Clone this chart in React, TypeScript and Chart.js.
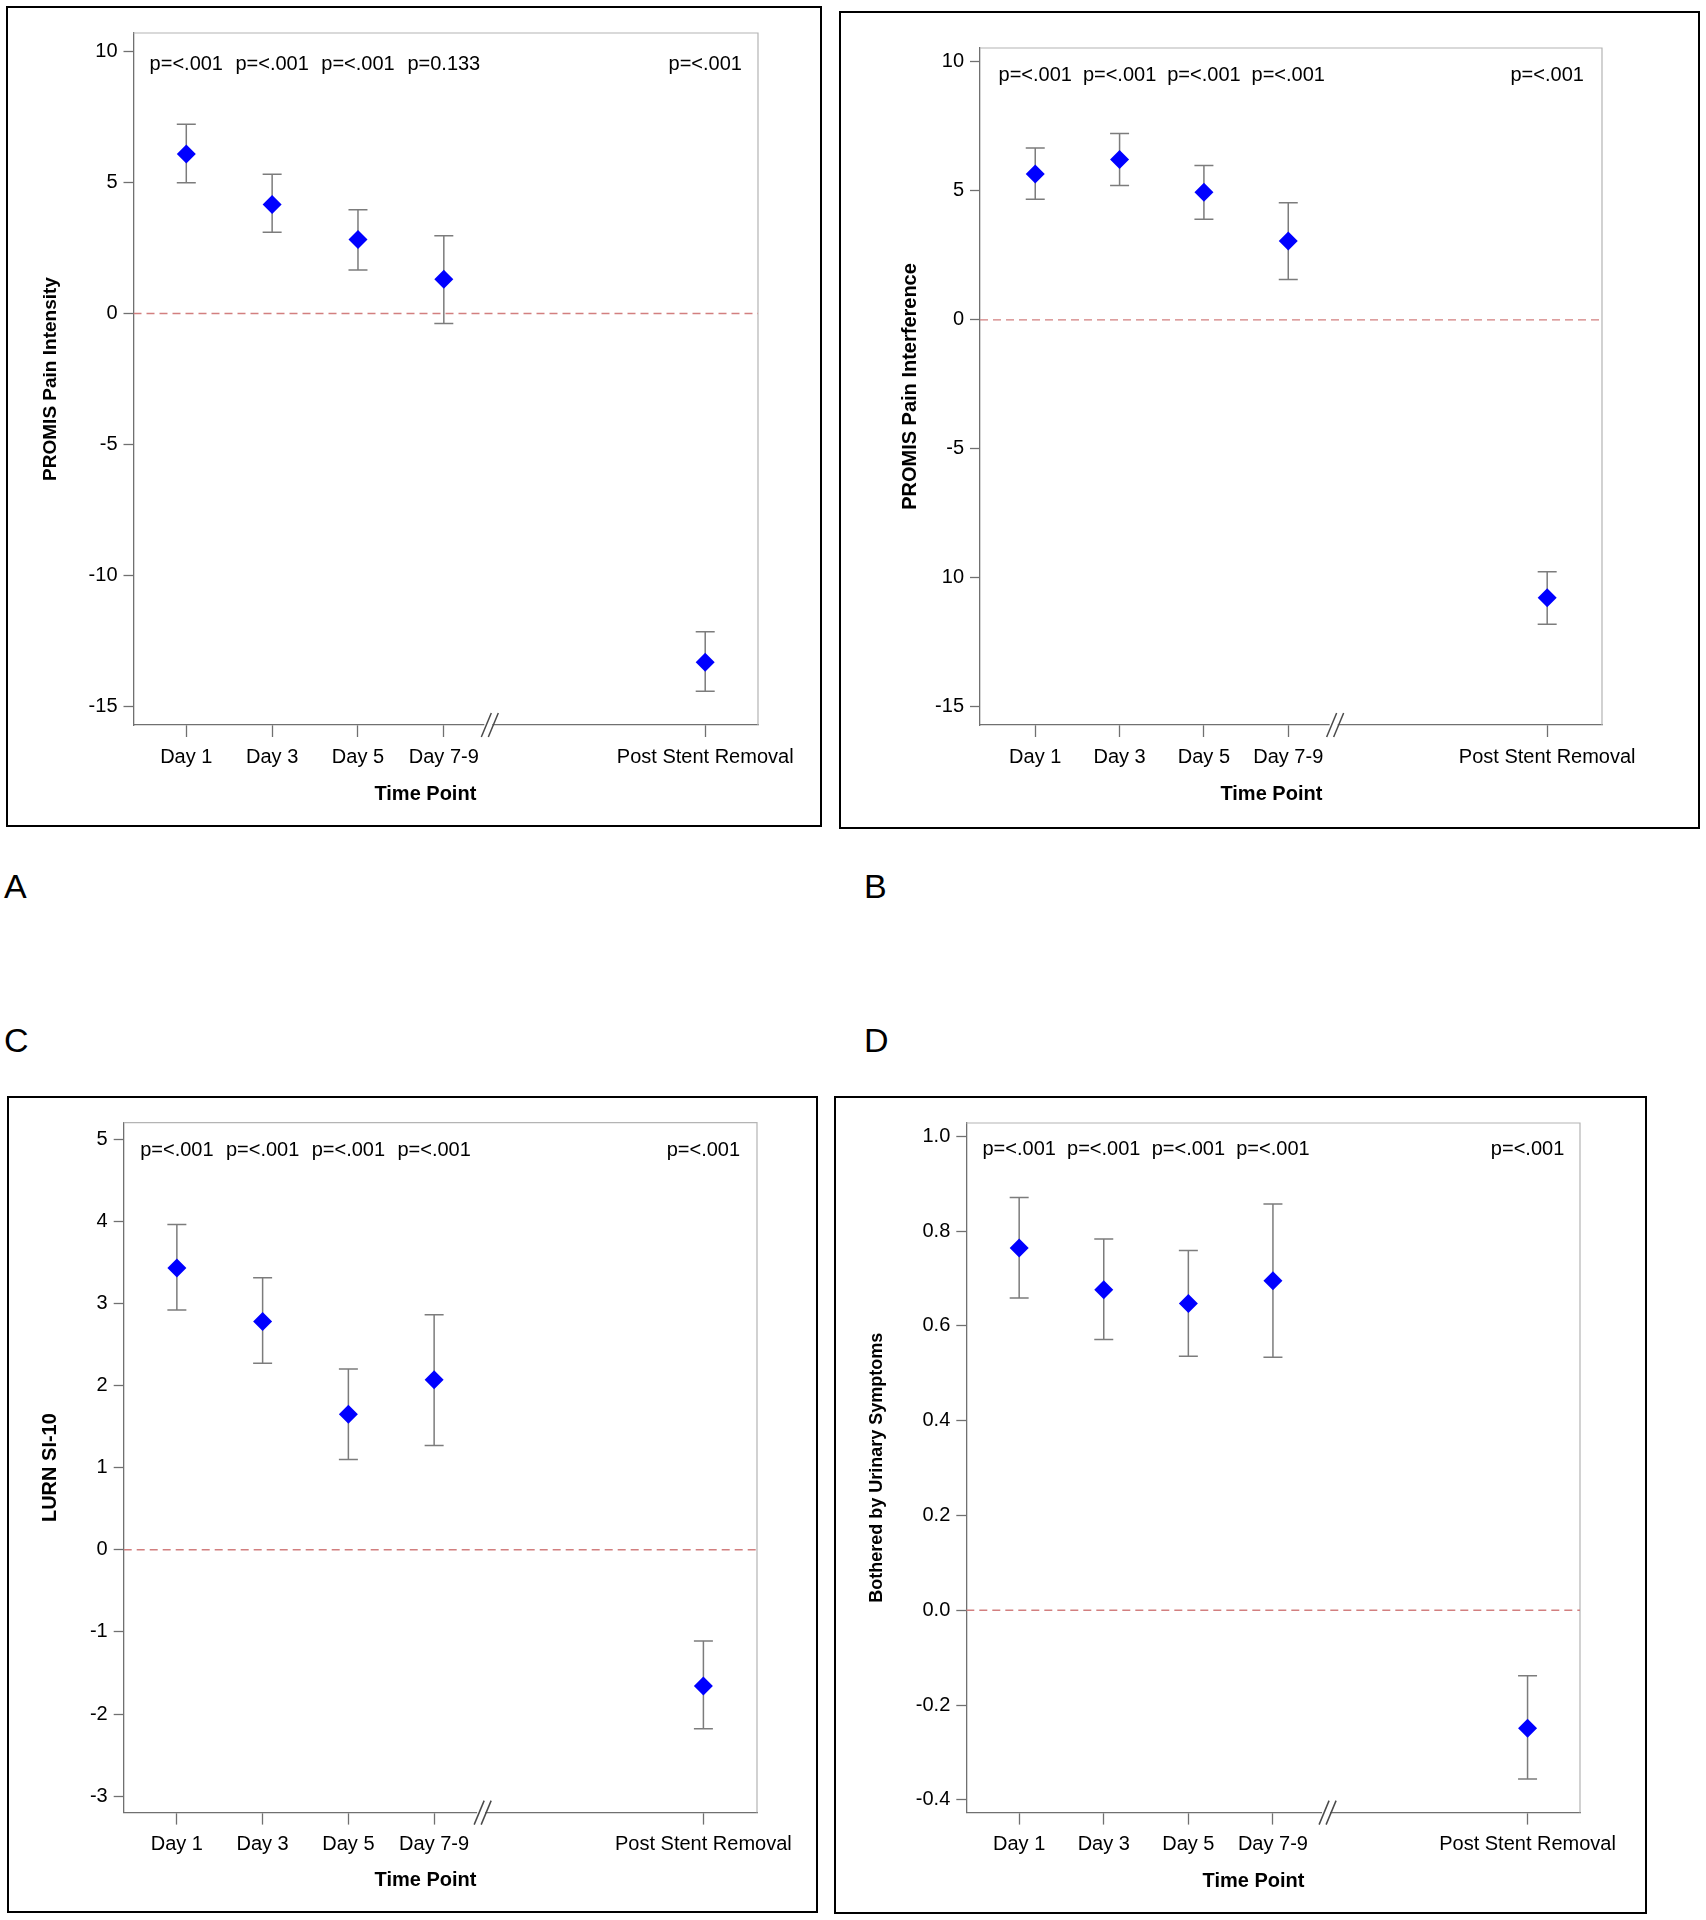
import React, { useEffect, useRef } from 'react';
import { Chart, registerables } from 'chart.js';

Chart.register(...registerables);

const FONT = "'Liberation Sans', Arial, Helvetica, sans-serif";

// ---------- shared categories ----------
const timePoints = ['Day 1', 'Day 3', 'Day 5', 'Day 7-9', 'Post Stent Removal'];
const xAxisTitle = 'Time Point';
const referenceLevel = 0;

// ---------- A: PROMIS Pain Intensity ----------
const intensityMean = [6.1, 4.17, 2.83, 1.31, -13.32];
const intensityLower = [5.0, 3.11, 1.66, -0.38, -14.43];
const intensityUpper = [7.23, 5.32, 3.97, 2.97, -12.16];
const intensityP = ['p=<.001', 'p=<.001', 'p=<.001', 'p=0.133', 'p=<.001'];
const intensityYTicks = [-15, -10, -5, 0, 5, 10];
const intensityYLabels = ['-15', '-10', '-5', '0', '5', '10'];

// ---------- B: PROMIS Pain Interference ----------
const interferenceMean = [5.65, 6.22, 4.95, 3.06, -10.78];
const interferenceLower = [4.68, 5.21, 3.9, 1.56, -11.8];
const interferenceUpper = [6.66, 7.22, 5.98, 4.54, -9.77];
const interferenceP = ['p=<.001', 'p=<.001', 'p=<.001', 'p=<.001', 'p=<.001'];
const interferenceYTicks = [-15, -10, -5, 0, 5, 10];
const interferenceYLabels = ['-15', '10', '-5', '0', '5', '10'];

// ---------- C: LURN SI-10 ----------
const lurnMean = [3.43, 2.78, 1.65, 2.07, -1.66];
const lurnLower = [2.92, 2.27, 1.1, 1.27, -2.18];
const lurnUpper = [3.96, 3.31, 2.2, 2.86, -1.11];
const lurnP = ['p=<.001', 'p=<.001', 'p=<.001', 'p=<.001', 'p=<.001'];
const lurnYTicks = [-3, -2, -1, 0, 1, 2, 3, 4, 5];
const lurnYLabels = ['-3', '-2', '-1', '0', '1', '2', '3', '4', '5'];

// ---------- D: Bothered by Urinary Symptoms ----------
const botherMean = [0.764, 0.676, 0.647, 0.695, -0.249];
const botherLower = [0.659, 0.571, 0.536, 0.534, -0.356];
const botherUpper = [0.871, 0.783, 0.759, 0.857, -0.138];
const botherP = ['p=<.001', 'p=<.001', 'p=<.001', 'p=<.001', 'p=<.001'];
const botherYTicks = [-0.4, -0.2, 0, 0.2, 0.4, 0.6, 0.8, 1.0];
const botherYLabels = ['-0.4', '-0.2', '0.0', '0.2', '0.4', '0.6', '0.8', '1.0'];

type PanelSpec = {
  key: string;
  letter: string;
  letterPos: { left: number; top: number };
  frame: { left: number; top: number; width: number; height: number };
  area: { left: number; top: number; right: number; bottom: number };
  xPos: number[];
  xMin: number;
  xMax: number;
  yMin: number;
  yMax: number;
  breakX: number;
  titleX: number;
  titleDy: number;
  pDy: number;
  yTitle: string;
  yTitleSize: number;
  yTitleCenter: number;
  mean: number[];
  lower: number[];
  upper: number[];
  pValues: string[];
  yTicks: number[];
  yLabels: string[];
};

const panels: PanelSpec[] = [
  {
    key: 'A', letter: 'A', letterPos: { left: 4, top: 869 },
    frame: { left: 6, top: 6, width: 816, height: 821 },
    area: { left: 125.5, top: 25, right: 750, bottom: 717 },
    xPos: [1, 2, 3, 4, 7.045], xMin: 0.385, xMax: 7.66,
    yMin: -15.72, yMax: 10.72, breakX: 4.53, titleX: 3.785, titleDy: 69.5, pDy: 31,
    yTitle: 'PROMIS Pain Intensity', yTitleSize: 19, yTitleCenter: 43,
    mean: intensityMean, lower: intensityLower, upper: intensityUpper, pValues: intensityP,
    yTicks: intensityYTicks, yLabels: intensityYLabels,
  },
  {
    key: 'B', letter: 'B', letterPos: { left: 864, top: 869 },
    frame: { left: 839, top: 11, width: 861, height: 818 },
    area: { left: 139, top: 35, right: 761, bottom: 712 },
    xPos: [1, 2, 3, 4, 7.07], xMin: 0.345, xMax: 7.72,
    yMin: -15.71, yMax: 10.54, breakX: 4.55, titleX: 3.8, titleDy: 69.5, pDy: 27,
    yTitle: 'PROMIS Pain Interference', yTitleSize: 20, yTitleCenter: 69,
    mean: interferenceMean, lower: interferenceLower, upper: interferenceUpper, pValues: interferenceP,
    yTicks: interferenceYTicks, yLabels: interferenceYLabels,
  },
  {
    key: 'C', letter: 'C', letterPos: { left: 4, top: 1023 },
    frame: { left: 7, top: 1096, width: 811, height: 817 },
    area: { left: 114.7, top: 24.6, right: 748, bottom: 714.6 },
    xPos: [1, 2, 3, 4, 7.14], xMin: 0.38, xMax: 7.765,
    yMin: -3.2, yMax: 5.2, breakX: 4.56, titleX: 3.9, titleDy: 68, pDy: 28,
    yTitle: 'LURN SI-10', yTitleSize: 20, yTitleCenter: 41,
    mean: lurnMean, lower: lurnLower, upper: lurnUpper, pValues: lurnP,
    yTicks: lurnYTicks, yLabels: lurnYLabels,
  },
  {
    key: 'D', letter: 'D', letterPos: { left: 864, top: 1023 },
    frame: { left: 834, top: 1096, width: 813, height: 818 },
    area: { left: 130.3, top: 25, right: 744, bottom: 714.6 },
    xPos: [1, 2, 3, 4, 7.01], xMin: 0.375, xMax: 7.63,
    yMin: -0.427, yMax: 1.028, breakX: 4.64, titleX: 3.77, titleDy: 68.5, pDy: 26.5,
    yTitle: 'Bothered by Urinary Symptoms', yTitleSize: 18, yTitleCenter: 41,
    mean: botherMean, lower: botherLower, upper: botherUpper, pValues: botherP,
    yTicks: botherYTicks, yLabels: botherYLabels,
  },
];

const BORDER = 2;

function makeChart(canvas: HTMLCanvasElement, s: PanelSpec) {
  const W = canvas.width;
  const H = canvas.height;

  const decor = {
    id: 'decor' + s.key,
    beforeDatasetsDraw(chart: any) {
      const { ctx, chartArea: a } = chart;
      const xs = chart.scales.x;
      const ys = chart.scales.y;
      ctx.save();
      // top and right frame of plot area
      ctx.strokeStyle = '#b4b4b4';
      ctx.lineWidth = 1.2;
      ctx.beginPath();
      ctx.moveTo(a.left, a.top);
      ctx.lineTo(a.right, a.top);
      ctx.lineTo(a.right, a.bottom);
      ctx.stroke();
      // error bars
      ctx.strokeStyle = '#7c7c7c';
      ctx.lineWidth = 1.5;
      s.xPos.forEach((xv, i) => {
        const px = xs.getPixelForValue(xv);
        const yl = ys.getPixelForValue(s.lower[i]);
        const yu = ys.getPixelForValue(s.upper[i]);
        ctx.beginPath();
        ctx.moveTo(px, yu);
        ctx.lineTo(px, yl);
        ctx.moveTo(px - 9.5, yu);
        ctx.lineTo(px + 9.5, yu);
        ctx.moveTo(px - 9.5, yl);
        ctx.lineTo(px + 9.5, yl);
        ctx.stroke();
      });
      ctx.restore();
    },
    afterDraw(chart: any) {
      const { ctx, chartArea: a } = chart;
      const xs = chart.scales.x;
      ctx.save();
      // axis break marks
      const bx = xs.getPixelForValue(s.breakX);
      const y0 = a.bottom;
      ctx.fillStyle = '#ffffff';
      ctx.fillRect(bx - 5, y0 - 3, 8, 6);
      ctx.strokeStyle = '#4a4a4a';
      ctx.lineWidth = 1.5;
      for (let k = 0; k < 2; k++) {
        const ox = bx - 8 + k * 7;
        ctx.beginPath();
        ctx.moveTo(ox, y0 + 12);
        ctx.lineTo(ox + 10, y0 - 12);
        ctx.stroke();
      }
      // p-values
      ctx.fillStyle = '#000';
      ctx.font = `20px ${FONT}`;
      ctx.textAlign = 'center';
      ctx.textBaseline = 'middle';
      s.xPos.forEach((xv, i) => {
        ctx.fillText(s.pValues[i], xs.getPixelForValue(xv), a.top + s.pDy);
      });
      // x axis title
      ctx.font = `bold 20px ${FONT}`;
      ctx.fillText(xAxisTitle, xs.getPixelForValue(s.titleX), a.bottom + s.titleDy);
      ctx.restore();
    },
  };

  const axisGray = '#707070';

  return new Chart(canvas, {
    type: 'scatter',
    data: {
      datasets: [
        {
          type: 'line',
          data: [
            { x: s.xMin, y: referenceLevel },
            { x: s.xMax, y: referenceLevel },
          ],
          borderColor: '#d27f7f',
          borderWidth: 1.4,
          borderDash: [8, 5],
          pointRadius: 0,
          fill: false,
          order: 2,
        } as any,
        {
          type: 'scatter',
          data: s.xPos.map((xv, i) => ({ x: xv, y: s.mean[i] })),
          pointStyle: 'rectRot',
          pointRadius: 9.5,
          pointHoverRadius: 9.5,
          backgroundColor: '#0000ff',
          borderColor: '#0000ff',
          borderWidth: 0,
          order: 1,
        } as any,
      ],
    },
    options: {
      responsive: false,
      maintainAspectRatio: false,
      animation: false,
      devicePixelRatio: 1,
      events: [],
      layout: { padding: { left: 0, top: s.area.top, right: W - s.area.right, bottom: 0 } },
      plugins: { legend: { display: false }, tooltip: { enabled: false }, title: { display: false } },
      scales: {
        x: {
          type: 'linear',
          bounds: 'data',
          min: s.xMin,
          max: s.xMax,
          afterBuildTicks: (scale: any) => {
            scale.ticks = s.xPos.map((v) => ({ value: v }));
          },
          afterFit: (scale: any) => {
            scale.height = H - s.area.bottom;
          },
          ticks: {
            autoSkip: false,
            maxRotation: 0,
            minRotation: 0,
            color: '#000',
            padding: 8,
            font: { family: FONT, size: 20 },
            callback: (_v: any, i: number) => timePoints[i],
          },
          grid: { display: true, drawOnChartArea: false, drawTicks: true, tickLength: 12, color: axisGray, tickColor: axisGray, tickWidth: 1.3 },
          border: { display: true, color: axisGray, width: 1.3 },
        },
        y: {
          type: 'linear',
          bounds: 'data',
          min: s.yMin,
          max: s.yMax,
          afterBuildTicks: (scale: any) => {
            scale.ticks = s.yTicks.map((v) => ({ value: v }));
          },
          afterFit: (scale: any) => {
            scale.width = s.area.left;
          },
          ticks: {
            color: '#000',
            padding: 6,
            font: { family: FONT, size: 20 },
            callback: (_v: any, i: number) => s.yLabels[i],
          },
          grid: { display: true, drawOnChartArea: false, drawTicks: true, tickLength: 10, color: axisGray, tickColor: axisGray, tickWidth: 1.3 },
          border: { display: true, color: axisGray, width: 1.3 },
          title: {
            display: true,
            text: s.yTitle,
            color: '#000',
            font: { family: FONT, size: s.yTitleSize, weight: 'bold' },
            padding: { top: s.yTitleCenter - s.yTitleSize * 0.6, bottom: 0 },
          },
        },
      },
    } as any,
    plugins: [decor],
  });
}

function Panel({ spec }: { spec: PanelSpec }) {
  const ref = useRef<HTMLCanvasElement>(null);
  const w = spec.frame.width - 2 * BORDER;
  const h = spec.frame.height - 2 * BORDER;
  useEffect(() => {
    if (!ref.current) return;
    const chart = makeChart(ref.current, spec);
    return () => chart.destroy();
  }, [spec]);
  return (
    <>
      <div
        style={{
          position: 'absolute',
          left: spec.frame.left,
          top: spec.frame.top,
          width: spec.frame.width,
          height: spec.frame.height,
          border: `${BORDER}px solid #000`,
          boxSizing: 'border-box',
          background: '#fff',
        }}
      >
        <canvas ref={ref} width={w} height={h} style={{ display: 'block', width: w, height: h }} />
      </div>
      <div
        style={{
          position: 'absolute',
          left: spec.letterPos.left,
          top: spec.letterPos.top,
          fontFamily: FONT,
          fontSize: 34,
          lineHeight: '34px',
          color: '#000',
        }}
      >
        {spec.letter}
      </div>
    </>
  );
}

export default function App() {
  return (
    <div style={{ position: 'absolute', left: 0, top: 0, width: 1706, height: 1920, background: '#fff', overflow: 'hidden' }}>
      {panels.map((p) => (
        <Panel key={p.key} spec={p} />
      ))}
    </div>
  );
}
